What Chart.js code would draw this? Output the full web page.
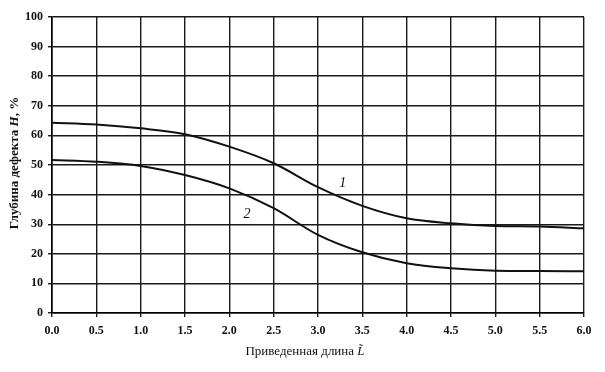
<!DOCTYPE html>
<html>
<head>
<meta charset="utf-8">
<script src="https://cdn.jsdelivr.net/npm/chart.js@4.4.0/dist/chart.umd.min.js"></script>
<style>
  html, body { margin: 0; padding: 0; background: #fff; }
  #wrap { width: 605px; height: 372px; }
</style>
</head>
<body>
<div id="wrap"><canvas id="depthChart" width="605" height="372"></canvas></div>
<script>
// Приведенная длина (x) and глубина дефекта (y, %)
const lengths = [0.0, 0.5, 1.0, 1.5, 2.0, 2.5, 3.0, 3.5, 4.0, 4.5, 5.0, 5.5, 6.0];
const curve1 = [64.3, 63.7, 62.4, 60.4, 56.2, 50.6, 42.5, 36.2, 32.0, 30.3, 29.4, 29.2, 28.6];
const curve2 = [51.7, 51.1, 49.7, 46.6, 42.1, 35.4, 26.4, 20.5, 16.8, 15.1, 14.3, 14.2, 14.1];
const curveLabels = [
    { text: '1', x: 3.28, y: 43.9 },
    { text: '2', x: 2.2, y: 33.4 }
];

const serif = '"Liberation Serif", "DejaVu Serif", serif';

// axis titles with italic parts + curve numbers
const textPlugin = {
    id: 'texts',
    afterDraw(chart) {
        const ctx = chart.ctx;
        const xs = chart.scales.x, ys = chart.scales.y;
        ctx.save();
        ctx.fillStyle = '#111';
        ctx.textBaseline = 'middle';

        ctx.font = 'italic 14px ' + serif;
        ctx.textAlign = 'center';
        curveLabels.forEach(l => {
            ctx.fillText(l.text, xs.getPixelForValue(l.x), ys.getPixelForValue(l.y));
        });

        // x title
        const xParts = [
            { t: 'Приведенная длина ', f: '13px ' + serif },
            { t: 'L\u0303', f: 'italic 13px ' + serif }
        ];
        drawParts(ctx, xParts, 305, 352);

        // y title, rotated
        ctx.translate(15, 163);
        ctx.rotate(-Math.PI / 2);
        const yParts = [
            { t: 'Глубина дефекта ', f: 'bold 13px ' + serif },
            { t: 'H', f: 'italic bold 13px ' + serif },
            { t: ', %', f: 'bold 13px ' + serif }
        ];
        drawParts(ctx, yParts, 0, 0);
        ctx.restore();
    }
};

function drawParts(ctx, parts, cx, cy) {
    let total = 0;
    parts.forEach(p => { ctx.font = p.f; total += ctx.measureText(p.t).width; });
    let x = cx - total / 2;
    ctx.textAlign = 'left';
    parts.forEach(p => {
        ctx.font = p.f;
        ctx.fillText(p.t, x, cy);
        x += ctx.measureText(p.t).width;
    });
}

const lineStyle = {
    borderColor: '#111',
    borderWidth: 2,
    pointRadius: 0,
    fill: false,
    cubicInterpolationMode: 'monotone'
};

new Chart(document.getElementById('depthChart'), {
    type: 'line',
    data: {
        datasets: [
            Object.assign({ label: '1', data: lengths.map((x, i) => ({ x: x, y: curve1[i] })) }, lineStyle),
            Object.assign({ label: '2', data: lengths.map((x, i) => ({ x: x, y: curve2[i] })) }, lineStyle)
        ]
    },
    options: {
        responsive: false,
        animation: false,
        layout: { padding: { top: 17, right: 21, left: 0, bottom: 0 } },
        plugins: {
            legend: { display: false },
            tooltip: { enabled: false }
        },
        scales: {
            x: {
                type: 'linear',
                min: 0,
                max: 6,
                afterFit: s => { s.height = 59; },
                border: { color: '#000', width: 1.6 },
                grid: { color: '#1a1a1a', lineWidth: 1.4, tickLength: 4 },
                ticks: {
                    stepSize: 0.5,
                    padding: 7,
                    color: '#111',
                    maxRotation: 0,
                    font: { family: serif, size: 12, weight: 'bold' },
                    callback: v => v.toFixed(1)
                }
            },
            y: {
                min: 0,
                max: 100,
                afterFit: s => { s.width = 52; },
                border: { color: '#000', width: 1.6 },
                grid: { color: '#1a1a1a', lineWidth: 1.4, tickLength: 4 },
                ticks: {
                    stepSize: 10,
                    padding: 5,
                    color: '#111',
                    font: { family: serif, size: 12, weight: 'bold' }
                }
            }
        }
    },
    plugins: [textPlugin]
});
</script>
</body>
</html>
